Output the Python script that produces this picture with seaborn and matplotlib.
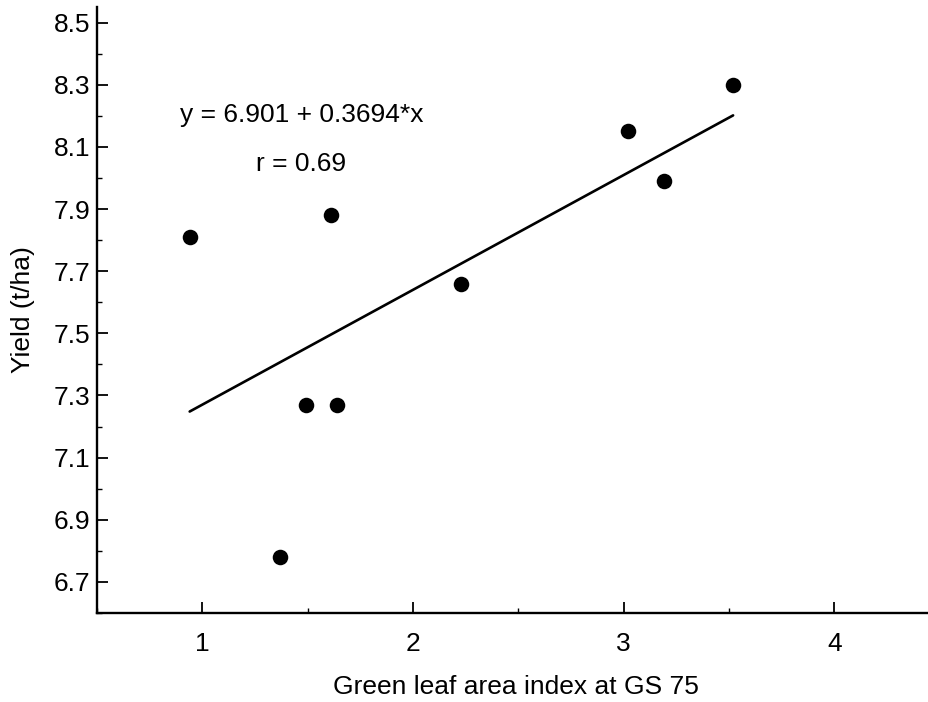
import matplotlib
matplotlib.use("Agg")
import matplotlib.pyplot as plt
from matplotlib.ticker import MultipleLocator
import numpy as np
import pandas as pd
import seaborn as sns

# Green leaf area index at GS 75 and grain yield
glai = [0.94, 1.61, 1.49, 1.64, 1.37, 2.23, 3.02, 3.19, 3.52]
yield_t = [7.81, 7.88, 7.27, 7.27, 6.78, 7.66, 8.15, 7.99, 8.30]

intercept = 6.901
slope = 0.3694
r_value = 0.69

y_ticks = [6.7, 6.9, 7.1, 7.3, 7.5, 7.7, 7.9, 8.1, 8.3, 8.5]
x_ticks = [1, 2, 3, 4]

sns.set_theme(style="ticks")
plt.rcParams["font.family"] = ["Liberation Sans", "DejaVu Sans"]
plt.rcParams["text.color"] = "black"
plt.rcParams["axes.labelcolor"] = "black"

FS = 19

df = pd.DataFrame({"glai": glai, "yield": yield_t})
fit_x = np.array([min(glai), max(glai)])
fit = pd.DataFrame({"glai": fit_x, "yield": intercept + slope * fit_x})

fig = plt.figure(figsize=(9.29, 7.02), dpi=100)
ax = fig.add_axes([0.1044, 0.1268, 0.8956, 0.8632])

sns.lineplot(data=fit, x="glai", y="yield", ax=ax, color="black", linewidth=1.9)
sns.scatterplot(data=df, x="glai", y="yield", ax=ax, color="black", s=125,
                edgecolor="black", linewidth=0, zorder=3)

ax.set_xlim(0.5, 4.45)
ax.set_ylim(6.6, 8.55)
ax.set_xticks(x_ticks)
ax.set_yticks(y_ticks)
ax.set_yticklabels([f"{v:.1f}" for v in y_ticks])
ax.xaxis.set_minor_locator(MultipleLocator(0.5))
ax.yaxis.set_minor_locator(MultipleLocator(0.1))

ax.tick_params(which="major", direction="in", length=8, width=1.3,
               labelsize=FS, colors="black")
ax.tick_params(axis="x", which="major", pad=14)
ax.tick_params(axis="y", which="major", pad=5)
ax.tick_params(which="minor", direction="in", length=3.5, width=1.0,
               colors="black")

for side in ("top", "right"):
    ax.spines[side].set_visible(False)
for side in ("left", "bottom"):
    ax.spines[side].set_linewidth(1.7)
    ax.spines[side].set_color("black")

ax.set_xlabel("Green leaf area index at GS 75", fontsize=FS, color="black")
ax.set_ylabel("Yield (t/ha)", fontsize=FS, color="black")
ax.xaxis.set_label_coords(0.504, -0.122)
ax.xaxis.label.set_va("center")
ax.yaxis.set_label_coords(-0.089, 0.5)
ax.yaxis.label.set_va("center")

ax.text(0.896, 8.181, f"y = {intercept} + {slope}*x", fontsize=FS,
        va="baseline", ha="left", color="black")
ax.text(1.256, 8.023, f"r = {r_value}", fontsize=FS, va="baseline",
        ha="left", color="black")

fig.savefig("out.png", dpi=100)
